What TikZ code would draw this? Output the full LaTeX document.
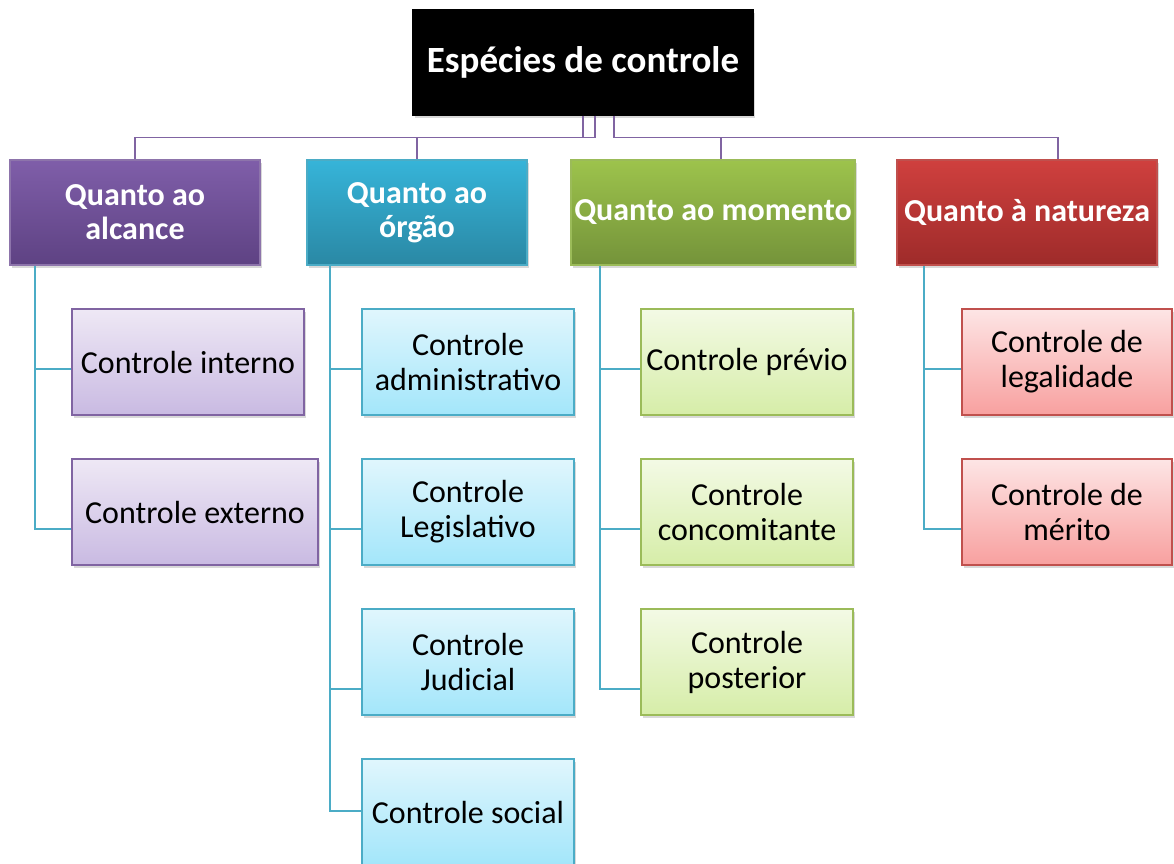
\documentclass[tikz,border=0pt]{standalone}
\usepackage{fontspec}
\setmainfont{Carlito}
\usepackage{tikz}
\usetikzlibrary{shadows}
\definecolor{roxo}{HTML}{8064A2}
\definecolor{roxoA}{HTML}{7F5EA9}
\definecolor{roxoB}{HTML}{5E4283}
\definecolor{roxoC}{HTML}{EEE8F5}
\definecolor{roxoD}{HTML}{C9BAE2}
\definecolor{azul}{HTML}{4BACC6}
\definecolor{azulA}{HTML}{36B4D9}
\definecolor{azulB}{HTML}{2A88A4}
\definecolor{azulC}{HTML}{E0F6FD}
\definecolor{azulD}{HTML}{A3E6FA}
\definecolor{verde}{HTML}{9BBB59}
\definecolor{verdeA}{HTML}{9DC34C}
\definecolor{verdeB}{HTML}{74933A}
\definecolor{verdeC}{HTML}{F3FAE5}
\definecolor{verdeD}{HTML}{D6EDA8}
\definecolor{vermelho}{HTML}{C0504D}
\definecolor{vermelhoA}{HTML}{CF403E}
\definecolor{vermelhoB}{HTML}{9E2B2A}
\definecolor{vermelhoC}{HTML}{FDE5E5}
\definecolor{vermelhoD}{HTML}{F8A09F}
\tikzstyle{caixa}=[rectangle, line width=1.3pt, align=center, inner sep=0pt, drop shadow={opacity=0.3, shadow xshift=2pt, shadow yshift=-2.5pt}]
\tikzstyle{raiz}=[caixa, fill=black, draw=black, text=white, minimum width=340pt, minimum height=105pt, font=\fontsize{37}{42}\selectfont\bfseries]
\tikzstyle{categoria}=[caixa, text=white, minimum height=105pt, font=\fontsize{32}{34}\selectfont\bfseries]
\tikzstyle{folha}=[caixa, text=black, minimum width=212pt, minimum height=106pt, font=\fontsize{32}{35}\selectfont]
\tikzstyle{ligacao}=[line width=1.6pt]

\begin{document}
\begin{tikzpicture}[x=1pt, y=-1pt]
			\useasboundingbox (0,0) rectangle (1174,863);
			\node[raiz] (raiz) at (583,62.5) {Espécies de controle};
			\node[categoria, minimum width=250pt, draw=roxo!90, top color=roxoA, bottom color=roxoB] (alcance) at (135,212.5) {Quanto ao\\alcance};
			\node[categoria, minimum width=220pt, draw=azul, top color=azulA, bottom color=azulB] (orgao) at (417,212.5) {Quanto ao\\órgão};
			\node[categoria, minimum width=284pt, draw=verde, top color=verdeA, bottom color=verdeB] (momento) at (713,212.5) {Quanto ao momento};
			\node[categoria, minimum width=260pt, draw=vermelho, top color=vermelhoA, bottom color=vermelhoB] (natureza) at (1027,212.5) {Quanto à natureza};
			\node[folha, minimum width=232pt, draw=roxo, top color=roxoC, bottom color=roxoD] (interno) at (188,362) {Controle interno};
			\node[folha, minimum width=246pt, draw=roxo, top color=roxoC, bottom color=roxoD] (externo) at (195,512) {Controle externo};
			\node[folha, draw=azul, top color=azulC, bottom color=azulD] (administrativo) at (468,362) {Controle\\administrativo};
			\node[folha, draw=azul, top color=azulC, bottom color=azulD] (legislativo) at (468,512) {Controle\\Legislativo};
			\node[folha, draw=azul, top color=azulC, bottom color=azulD] (judicial) at (468,662) {Controle\\Judicial};
			\node[folha, draw=azul, top color=azulC, bottom color=azulD] (social) at (468,812) {Controle social};
			\node[folha, draw=verde, top color=verdeC, bottom color=verdeD] (previo) at (747,362) {Controle prévio};
			\node[folha, draw=verde, top color=verdeC, bottom color=verdeD] (concomitante) at (747,512) {Controle\\concomitante};
			\node[folha, draw=verde, top color=verdeC, bottom color=verdeD] (posterior) at (747,662) {Controle\\posterior};
			\node[folha, minimum width=210pt, draw=vermelho, top color=vermelhoC, bottom color=vermelhoD] (legalidade) at (1067,362) {Controle de\\legalidade};
			\node[folha, minimum width=210pt, draw=vermelho, top color=vermelhoC, bottom color=vermelhoD] (merito) at (1067,512) {Controle de\\mérito};
			\path[ligacao, draw=roxo]
				(raiz.south)--++(0,22)-|(alcance.north)
				([xshift=12pt]raiz.south)--++(0,22)-|(orgao.north)
				([xshift=31pt]raiz.south)--++(0,22)-|([xshift=8pt]momento.north)
				([xshift=31pt]raiz.south)--++(0,22)-|([xshift=31pt]natureza.north);
			\path[ligacao, draw=azul]
				([xshift=-100pt]alcance.south)|-([yshift=-7pt]interno.west)
				([xshift=-100pt]alcance.south)|-([yshift=-17pt]externo.west)
				([xshift=-87pt]orgao.south)|-([yshift=-7pt]administrativo.west)
				([xshift=-87pt]orgao.south)|-([yshift=-17pt]legislativo.west)
				([xshift=-87pt]orgao.south)|-([yshift=-27pt]judicial.west)
				([xshift=-87pt]orgao.south)|-([yshift=1pt]social.west)
				([xshift=-113pt]momento.south)|-([yshift=-7pt]previo.west)
				([xshift=-113pt]momento.south)|-([yshift=-17pt]concomitante.west)
				([xshift=-113pt]momento.south)|-([yshift=-27pt]posterior.west)
				([xshift=-103pt]natureza.south)|-([yshift=-7pt]legalidade.west)
				([xshift=-103pt]natureza.south)|-([yshift=-17pt]merito.west);
		\end{tikzpicture}
\end{document}
